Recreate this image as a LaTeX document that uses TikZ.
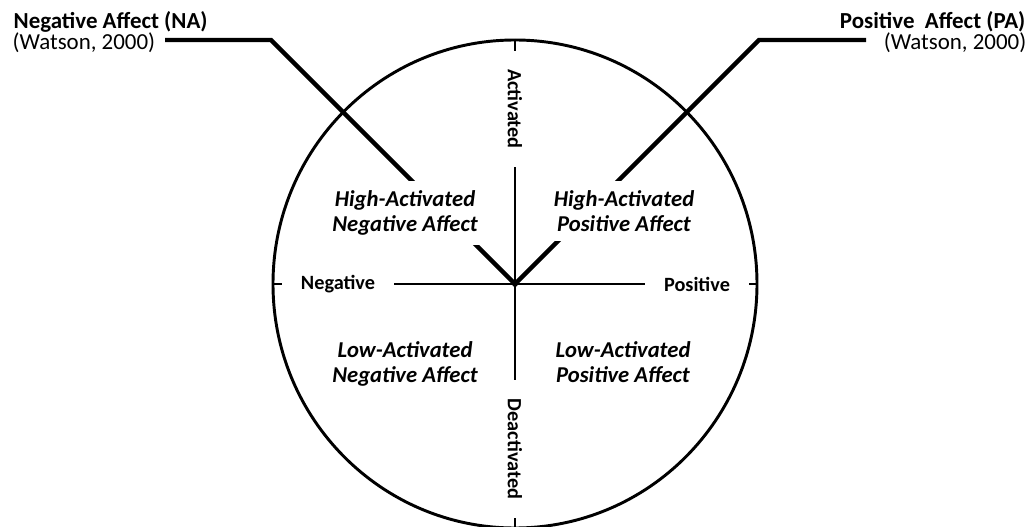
\documentclass[tikz,border=0pt]{standalone}
\usepackage{fontspec}
\setmainfont{Carlito}
\usepackage{tikz}
\usetikzlibrary{calc, positioning}

\begin{document}
\begin{tikzpicture}[x=0.75pt, y=-0.75pt,
    affect/.style={font=\fontsize{17.2}{19}\selectfont},
    pole/.style={fill=white, inner xsep=14pt, inner ysep=2pt, font=\fontsize{15.2}{17}\selectfont\bfseries},
    quad/.style={fill=white, align=center, anchor=north, inner sep=7pt, font=\fontsize{17}{18.75}\selectfont\bfseries\itshape},
    axis/.style={line width=1.1pt},
    arm/.style={line width=3.2pt, line join=miter}]
  \useasboundingbox (0,0) rectangle (1036,527);
  \coordinate (O) at (515,284);
  % circumplex and axes
  \draw[line width=2.2pt] (O) ellipse [x radius=181.5pt, y radius=183pt];
  \draw[axis] (273,284) -- (758,284);
  \draw[axis] (515,39) -- (515,528);
  % NA and PA arms
  \coordinate (nastart) at (165,40);
  \coordinate (nacorner) at (271,40);
  \coordinate (pacorner) at (759,40);
  \coordinate (paend) at (866,40);
  \draw[arm] (nastart) -- (nacorner) -- (O) -- (pacorner) -- (paend);
  \fill (O) circle (2.2pt);
  % pole labels
  \node[pole, rotate=-90] (act) at (515,109) {Activated};
  \node[pole, rotate=-90] (deact) at (515,449) {Deactivated};
  \node[pole] (neg) at (338,284) {Negative};
  \node[pole] (pos) at (697,284) {Positive};
  % quadrants
  \node[quad] (hna) at (405,181) {High-Activated\\Negative Affect};
  \node[quad] (hpa) at (624,181) {High-Activated\\Positive Affect};
  \node[quad] (lna) at (405,332) {Low-Activated\\Negative Affect};
  \node[quad] (lpa) at (623,332) {Low-Activated\\Positive Affect};
  % sources
  \node[affect, font=\fontsize{17.2}{19}\selectfont\bfseries, anchor=base west] (na) at (9,29) {Negative Affect (NA)};
  \node[affect, anchor=base west] (nacite) at (8,50) {(Watson, 2000)};
  \node[affect, font=\fontsize{17.2}{19}\selectfont\bfseries, anchor=base east] (pa) at (1030,29) {Positive\ \ Affect (PA)};
  \node[affect, anchor=base east] (pacite) at (1031,50) {(Watson, 2000)};
\end{tikzpicture}
\end{document}
